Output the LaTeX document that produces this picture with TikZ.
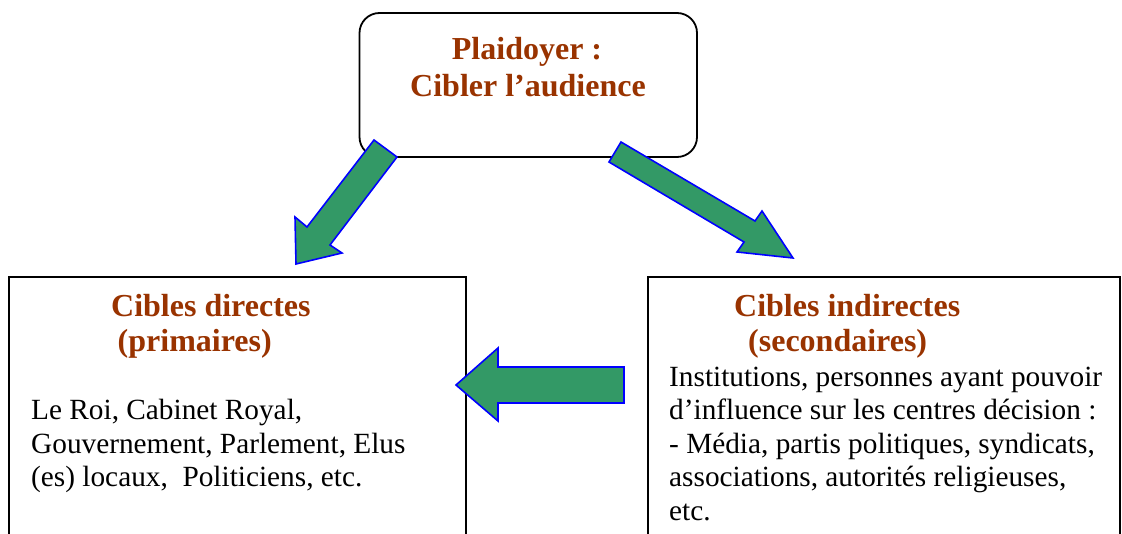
\documentclass[tikz,border=0pt]{standalone}
\usepackage{fontspec}
\setmainfont{Liberation Serif}
\definecolor{titlebrown}{HTML}{993300}
\definecolor{arrowgreen}{HTML}{339966}
\begin{document}
\begin{tikzpicture}[x=1pt,y=-1pt,
  box/.style={draw=black, line width=1.8pt, inner sep=0pt, fill=white},
  titletext/.style={font=\fontsize{32}{37}\selectfont\bfseries, text=titlebrown, inner sep=0pt},
  bodytext/.style={font=\fontsize{29.3}{33.5}\selectfont, inner sep=0pt, anchor=base west},
  blockarrow/.style={fill=arrowgreen, draw=blue, line width=1.6pt, line join=miter}]
\useasboundingbox (0,0) rectangle (1122,534);
\clip (0,0) rectangle (1122,534);

% boxes
\node[box, rounded corners=20pt, minimum width=337.5pt, minimum height=144pt] (top) at (528.25,85) {};
\node[box, minimum width=457pt, minimum height=263pt] (left) at (237.5,408.5) {};
\node[box, minimum width=472pt, minimum height=263pt] (right) at (884,408.5) {};

% block arrows
\draw[blockarrow] (374,140) -- (397,157) -- (330,245) -- (342,253) -- (296,264) -- (295,217) -- (307,227) -- cycle;
\draw[blockarrow] (621,142) -- (755,221) -- (762,211) -- (793,258) -- (737,252) -- (744,242) -- (609,162) -- cycle;
\draw[blockarrow] (456,385) -- (498,348) -- (498,367) -- (624,367) -- (624,403) -- (498,403) -- (498,421) -- cycle;

% top texts
\node[titletext, anchor=base] (t1) at (527,59.3) {Plaidoyer :};
\node[titletext, anchor=base] (t2) at (528,96.7) {Cibler l’audience};

% left texts
\node[titletext, anchor=base west] (l1) at (111,316.7) {Cibles directes};
\node[titletext, anchor=base west] (l2) at (117.5,351.7) {(primaires)};
\node[bodytext] (lb1) at (31,420) {Le Roi, Cabinet Royal,};
\node[bodytext] (lb2) at (31,453.3) {Gouvernement, Parlement, Elus};
\node[bodytext] (lb3) at (31,486.7) {(es) locaux,\ \ Politiciens, etc.};

% right texts
\node[titletext, anchor=base west] (r1) at (734,316.7) {Cibles indirectes};
\node[titletext, anchor=base west] (r2) at (748,351.7) {(secondaires)};
\node[bodytext] (rb1) at (669,386.7) {Institutions, personnes ayant pouvoir};
\node[bodytext] (rb2) at (669,420) {d’influence sur les centres décision :};
\node[bodytext] (rb3) at (669,453.3) {- Média, partis politiques, syndicats,};
\node[bodytext] (rb4) at (669,486.7) {associations, autorités religieuses,};
\node[bodytext] (rb5) at (669,520) {etc.};
\end{tikzpicture}
\end{document}
